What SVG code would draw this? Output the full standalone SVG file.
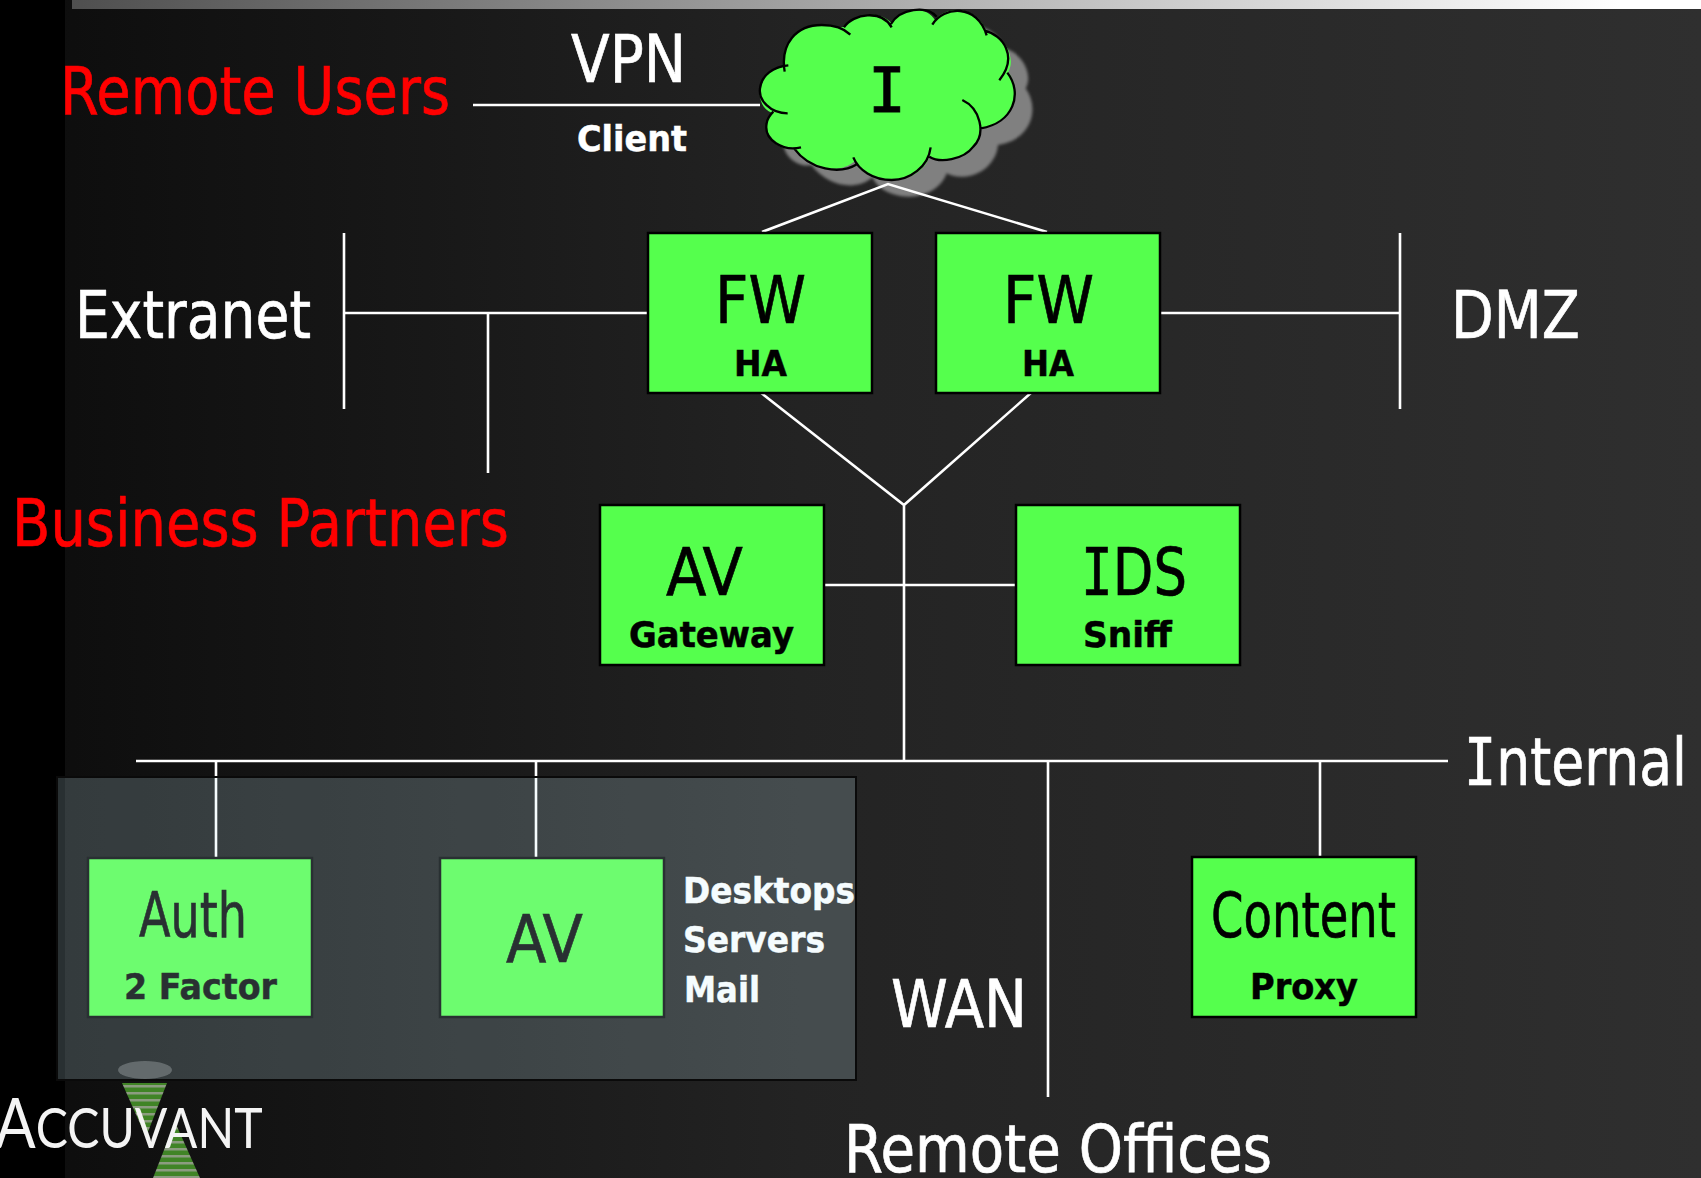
<svg xmlns="http://www.w3.org/2000/svg" width="1701" height="1178" viewBox="0 0 1701 1178">
<defs>
<linearGradient id="bg" x1="0" x2="1" y1="0" y2="0"><stop offset="0" stop-color="#0c0c0c"/><stop offset="0.25" stop-color="#181818"/><stop offset="0.47" stop-color="#232323"/><stop offset="1" stop-color="#2f2f2f"/></linearGradient>
<linearGradient id="bar" x1="0" x2="1" y1="0" y2="0"><stop offset="0" stop-color="#4f4f4f"/><stop offset="0.95" stop-color="#ffffff"/><stop offset="1" stop-color="#ffffff"/></linearGradient>
<filter id="soft" x="-10%" y="-10%" width="120%" height="120%"><feGaussianBlur stdDeviation="5"/></filter>
<filter id="blur1"><feGaussianBlur stdDeviation="0.6"/></filter>
<pattern id="stripe" width="8" height="7" patternUnits="userSpaceOnUse"><rect width="8" height="7" fill="#3f8428"/><rect width="8" height="2.5" fill="#8c9c80"/></pattern>
</defs>
<style>
text{font-family:"DejaVu Sans","Liberation Sans",sans-serif}
.big{font-size:66px;stroke-width:.7}
.small{font-size:36px;font-weight:bold;stroke-width:.5}
.w{fill:#fff;stroke:#fff}.r{fill:#ff0000;stroke:#ff0000}.k{fill:#000;stroke:#000}
.box{fill:#55ff4d;stroke:#000;stroke-width:2.5}
.ln{stroke:#fff;stroke-width:2.6;fill:none}
.mono{font-family:"DejaVu Sans Mono",monospace}
</style>
<rect width="1701" height="1178" fill="url(#bg)"/>
<rect width="65" height="1178" fill="#000"/>
<rect x="72" y="0" width="1629" height="9" fill="url(#bar)"/>

<g id="cloud-shadow" transform="translate(740 0) scale(0.3333)">
<path transform="translate(52 50)" filter="url(#soft)" fill="#808080" d="M132 200C125 130 170 75 245 75C275 75 300 85 315 80C345 40 420 30 455 70C480 25 560 15 585 60C620 15 710 15 740 95C790 105 830 170 805 215C850 280 820 370 722 385C720 410 710 430 690 450C660 480 600 490 568 470C555 510 510 540 455 540C400 540 360 515 345 482C300 525 210 510 162 445C130 455 70 420 80 370C82 355 90 345 95 338C70 330 55 300 60 265C65 225 100 205 132 200Z"/>
</g>

<g id="connectors" class="ln">
<path d="M473 105H760"/>
<path d="M762 232L888 184L1047 232"/>
<path d="M344 233V409M344 313H648M488 313V473"/>
<path d="M1159 313H1400M1400 233V409"/>
<path d="M760 392L904 505L1032 392M904 505V761M825 585H1016"/>
<path d="M136 761H1448M216 761V857M536 761V857M1048 761V1097M1320 761V857"/>
</g>

<g id="labels">
<text class="big r" x="60" y="114" textLength="390" lengthAdjust="spacingAndGlyphs">Remote Users</text>
<text class="big w" x="571" y="82" textLength="115" lengthAdjust="spacingAndGlyphs">VPN</text>
<text class="small w" x="577" y="151" textLength="110" lengthAdjust="spacingAndGlyphs">Client</text>
<text class="big w" x="75" y="338" textLength="236" lengthAdjust="spacingAndGlyphs">Extranet</text>
<text class="big w" x="1451" y="338" textLength="129" lengthAdjust="spacingAndGlyphs">DMZ</text>
<text class="big r" x="12" y="546" textLength="497" lengthAdjust="spacingAndGlyphs">Business Partners</text>
<text class="big w" x="891" y="1027" textLength="136" lengthAdjust="spacingAndGlyphs">WAN</text>
<text class="big w" x="844" y="1172" textLength="428" lengthAdjust="spacingAndGlyphs">Remote Offices</text>
<text class="big w" transform="translate(1464 785) scale(.812 1)"><tspan class="mono">I</tspan>nternal</text>
</g>

<g id="cloud">
<g transform="translate(740 0) scale(0.3333)">
<path fill="#55ff4d" d="M132 200C125 130 170 75 245 75C275 75 300 85 315 80C345 40 420 30 455 70C480 25 560 15 585 60C620 15 710 15 740 95C790 105 830 170 805 215C850 280 820 370 722 385C720 410 710 430 690 450C660 480 600 490 568 470C555 510 510 540 455 540C400 540 360 515 345 482C300 525 210 510 162 445C130 455 70 420 80 370C82 355 90 345 95 338C70 330 55 300 60 265C65 225 100 205 132 200Z"/>
<path fill="none" stroke="#000" stroke-width="7" d="M134 215C120 130 170 75 245 75C280 75 312 85 331 104M312 82C340 40 425 28 455 82M453 72C480 25 560 15 590 50M577 74C610 18 712 10 740 106M733 92C790 105 835 170 778 241M802 218C850 280 820 370 722 385M667 300C720 325 740 400 700 440C670 480 600 490 568 470M572 442C565 500 510 540 455 540C400 540 355 510 340 472M352 492C300 525 210 510 162 445M183 442C130 455 70 420 80 370C82 355 90 345 100 335M143 340C90 340 55 300 60 265C65 225 100 200 145 196"/>
</g>
<text class="mono k" x="887" y="112" font-size="63" text-anchor="middle">I</text>
</g>

<g id="fw1"><rect class="box" x="648" y="233" width="224" height="160"/><text class="big k" x="715" y="323" textLength="91" lengthAdjust="spacingAndGlyphs">FW</text><text class="small k" x="734" y="376" textLength="53" lengthAdjust="spacingAndGlyphs">HA</text></g>
<g id="fw2"><rect class="box" x="936" y="233" width="224" height="160"/><text class="big k" x="1003" y="323" textLength="91" lengthAdjust="spacingAndGlyphs">FW</text><text class="small k" x="1022" y="376" textLength="52" lengthAdjust="spacingAndGlyphs">HA</text></g>
<g id="av-gateway"><rect class="box" x="600" y="505" width="224" height="160"/><text class="big k" x="666" y="595" textLength="77" lengthAdjust="spacingAndGlyphs">AV</text><text class="small k" x="629" y="647" textLength="165" lengthAdjust="spacingAndGlyphs">Gateway</text></g>
<g id="ids"><rect class="box" x="1016" y="505" width="224" height="160"/><text class="big k" transform="translate(1081 595) scale(.8 1)"><tspan class="mono">I</tspan>DS</text><text class="small k" x="1083" y="647" textLength="89" lengthAdjust="spacingAndGlyphs">Sniff</text></g>
<g id="auth"><rect class="box" x="88" y="858" width="224" height="159"/><text class="big k" style="font-size:62px" x="139" y="937" textLength="108" lengthAdjust="spacingAndGlyphs">Auth</text><text class="small k" x="124" y="999" textLength="153" lengthAdjust="spacingAndGlyphs">2 Factor</text></g>
<g id="av"><rect class="box" x="440" y="858" width="224" height="159"/><text class="big k" x="506" y="962" textLength="77" lengthAdjust="spacingAndGlyphs">AV</text></g>
<g id="av-targets">
<text class="small w" x="683" y="903" textLength="172" lengthAdjust="spacingAndGlyphs">Desktops</text>
<text class="small w" x="683" y="952" textLength="142" lengthAdjust="spacingAndGlyphs">Servers</text>
<text class="small w" x="684" y="1002" textLength="76" lengthAdjust="spacingAndGlyphs">Mail</text>
</g>
<g id="content"><rect class="box" x="1192" y="857" width="224" height="160"/><text class="big k" style="font-size:62px" x="1211" y="937" textLength="185" lengthAdjust="spacingAndGlyphs">Content</text><text class="small k" x="1250" y="999" textLength="108" lengthAdjust="spacingAndGlyphs">Proxy</text></g>

<g id="logo">
<ellipse cx="145" cy="1070" rx="27" ry="9" fill="#4a4a4a" filter="url(#blur1)"/>
<g filter="url(#blur1)">
<path d="M122 1083H167L146 1137Z" fill="url(#stripe)"/>
<path d="M175 1122L200 1178H153Z" fill="url(#stripe)"/>
</g>
<text transform="translate(-5 1148) scale(.86 1)" fill="#f4f4f4" style="font-family:Lato,'Open Sans',sans-serif" font-size="56" filter="url(#blur1)"><tspan font-size="70">A</tspan>CCUVANT</text>
</g>

<rect id="overlay" x="57" y="777" width="799" height="303" fill="#ceeefa" fill-opacity="0.2" stroke="#0a0a0a" stroke-width="2"/>
</svg>
